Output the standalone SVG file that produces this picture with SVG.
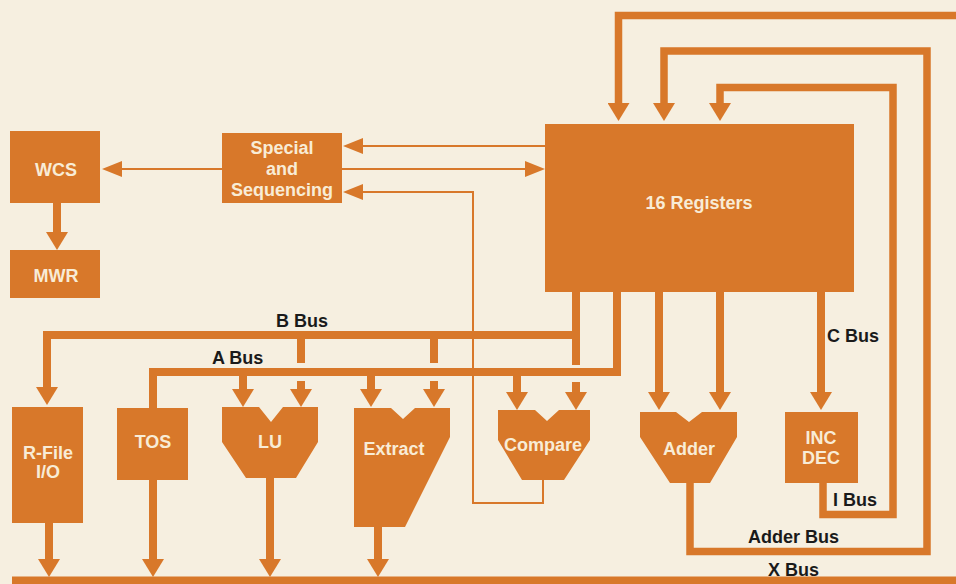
<svg xmlns="http://www.w3.org/2000/svg" width="956" height="584" viewBox="0 0 956 584">
<style>
.blk{fill:#d8782a}
.bx{font-family:"Liberation Sans",Arial,sans-serif;font-weight:bold;font-size:18px;fill:#f8ecd6;text-anchor:middle}
.lb{font-family:"Liberation Sans",Arial,sans-serif;font-weight:bold;font-size:18px;fill:#1a1a1a}
.bus{fill:none;stroke:#d8782a;stroke-width:8;stroke-linejoin:miter}
.loop{fill:none;stroke:#d8782a;stroke-width:7.5}
.thin{fill:none;stroke:#d8782a;stroke-width:2}
.arr{marker-end:url(#ah)}
.arrs{marker-end:url(#ahs)}
</style>
<defs>
<marker id="ah" markerUnits="userSpaceOnUse" viewBox="0 0 18 22" refX="1" refY="11" markerWidth="18" markerHeight="22" orient="auto"><path d="M0,0 L18,11 L0,22 z" fill="#d8782a"/></marker>
<marker id="ahs" markerUnits="userSpaceOnUse" viewBox="0 0 20 16" refX="1" refY="8" markerWidth="20" markerHeight="16" orient="auto"><path d="M0,0 L20,8 L0,16 z" fill="#d8782a"/></marker>
</defs>
<rect width="956" height="584" fill="#f6efe0"/>

<g id="connectors">
<path class="loop arr" d="M956 15.5 H618.5 V104"/>
<path class="loop arr" d="M690 483 V551.5 H927 V51 H664 V104"/>
<path class="loop arr" d="M823 483 V514.5 H893 V87.5 H720 V104"/>
<path class="bus arr" d="M57 203 V233"/>
<path class="bus arr" d="M659 292 V393"/>
<path class="bus arr" d="M720 292 V393"/>
<path class="bus arr" d="M821 292 V393"/>
<path class="bus" d="M576 292 V365"/>
<path class="bus arr" d="M580 335 H47 V388"/>
<path class="bus" d="M617 292 V376"/>
<path class="bus" d="M621 372 H153 V408"/>
<path class="bus arr" d="M243 376 V390"/>
<path class="bus arr" d="M371 376 V390"/>
<path class="bus arr" d="M517 376 V393"/>
<path class="bus" d="M301 339 V363"/>
<path class="bus arr" d="M301 381 V390"/>
<path class="bus" d="M434 339 V363"/>
<path class="bus arr" d="M434 381 V390"/>
<path class="bus arr" d="M576 382 V393"/>
<path class="bus arr" d="M49 523 V560"/>
<path class="bus arr" d="M153 480 V560"/>
<path class="bus arr" d="M270 478 V560"/>
<path class="bus arr" d="M378 527 V560"/>
<path class="bus" d="M12 580.5 H956"/>
<path class="thin arrs" d="M545 146 H362"/>
<path class="thin arrs" d="M342 169 H526"/>
<path class="thin arrs" d="M222 169 H121"/>
<path class="thin arrs" d="M543 480 V503 H473 V192 H362"/>
</g>

<g id="wcs"><rect class="blk" x="10" y="131" width="90" height="72"/><text class="bx" x="56" y="176">WCS</text></g>
<g id="mwr"><rect class="blk" x="10" y="250" width="90" height="48"/><text class="bx" x="56" y="282">MWR</text></g>
<g id="special"><rect class="blk" x="222" y="133" width="120" height="70"/><text class="bx" x="282" y="153.5">Special</text><text class="bx" x="282" y="174.5">and</text><text class="bx" x="282" y="195.5">Sequencing</text></g>
<g id="registers"><rect class="blk" x="545" y="124" width="309" height="168"/><text class="bx" x="699" y="209">16 Registers</text></g>
<g id="rfile"><rect class="blk" x="12" y="407" width="71" height="116"/><text class="bx" x="48" y="459">R-File</text><text class="bx" x="48" y="478">I/O</text></g>
<g id="tos"><rect class="blk" x="117" y="408" width="71" height="72"/><text class="bx" x="153" y="448">TOS</text></g>
<g id="lu"><polygon class="blk" points="222,407 259,407 271,422 283,407 318,407 318,442 296,478 246,478 222,442"/><text class="bx" x="270" y="448">LU</text></g>
<g id="extract"><polygon class="blk" points="354,408 391,408 403,419 415,408 450,408 450,437 405,527 354,527"/><text class="bx" x="394" y="455">Extract</text></g>
<g id="compare"><polygon class="blk" points="498,410 535,410 547,421 559,410 590,410 590,440 564,480 522,480 498,440"/><text class="bx" x="543" y="451">Compare</text></g>
<g id="adder"><polygon class="blk" points="640,412 676,412 689,422 702,412 737,412 737,437 710,483 670,483 640,437"/><text class="bx" x="689" y="455">Adder</text></g>
<g id="incdec"><rect class="blk" x="785" y="412" width="73" height="71"/><text class="bx" x="821" y="444">INC</text><text class="bx" x="821" y="464">DEC</text></g>

<g id="labels">
<text class="lb" x="276" y="327">B Bus</text>
<text class="lb" x="212" y="364">A Bus</text>
<text class="lb" x="827" y="342">C Bus</text>
<text class="lb" x="833" y="506">I Bus</text>
<text class="lb" x="748" y="543">Adder Bus</text>
<text class="lb" x="768" y="576">X Bus</text>
</g>
</svg>
